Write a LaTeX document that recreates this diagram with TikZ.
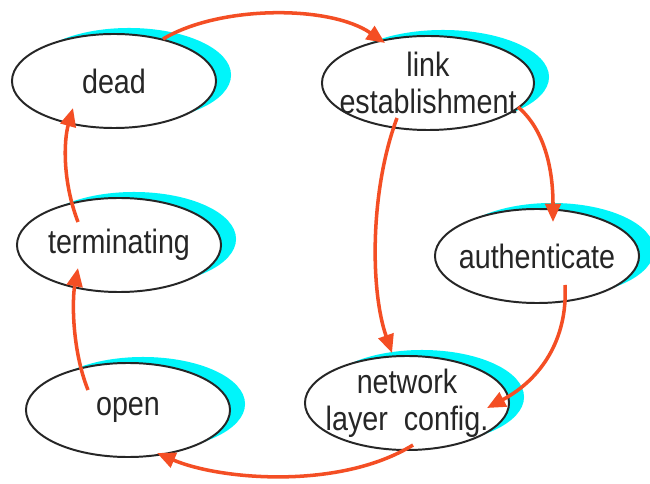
\documentclass[tikz,border=0pt]{standalone}
\usepackage{fontspec}
\setmainfont{Liberation Sans}[FakeStretch=0.85]
\usepackage{tikz}
\usetikzlibrary{arrows.meta,calc,shapes.geometric,shadows}
\definecolor{linkred}{RGB}{244,78,36}
\definecolor{shadowcyan}{RGB}{0,245,250}

\begin{document}
\begin{tikzpicture}[x=0.025cm, y=-0.025cm,
    state/.style={ellipse, draw=black!85, line width=1.4pt, fill=white, text=black!85,
      minimum width=5.1cm, minimum height=2.35cm, inner xsep=-0.6cm, inner ysep=-0.3cm,
      align=center, font=\fontsize{24}{26}\selectfont,
      drop shadow={shadow xshift=0.375cm, shadow yshift=0.15cm, fill=shadowcyan, opacity=1}},
    trans/.style={-{Triangle[length=4.6mm, width=3.9mm]}, draw=linkred, line width=2.5pt}]
    \useasboundingbox[fill=white] (0,0) rectangle (650,484);

    \node[state] (dead) at (114,81) {dead};
    \node[state, minimum width=5.3cm] (link) at (428,83) {link\\establishment};
    \node[state] (auth) at (537,256) {authenticate};
    \node[state] (term) at (119,245) {terminating};
    \node[state] (open) at (128,410) {open};
    \node[state] (net) at (407,403) {network\\layer\ \ config.};

    \draw[trans] ($(dead)+(49,-42)$) .. controls (220,5) and (330,5) .. ($(link)+(-43,-40)$);
    \draw[trans] ($(link)+(-31,35)$) .. controls (370,190) and (370,290) .. ($(net)+(-15,-50)$);
    \draw[trans] ($(link)+(90,24)$) .. controls (545,130) and (553,170) .. ($(auth)+(16,-34)$);
    \draw[trans] ($(auth)+(28,29)$) .. controls (568,340) and (540,380) .. ($(net)+(80,5)$);
    \draw[trans] ($(net)+(6,42)$) .. controls (340,490) and (220,480) .. ($(open)+(29,43)$);
    \draw[trans] ($(open)+(-40,-20)$) .. controls (72,350) and (72,300) .. ($(term)+(-41,23)$);
    \draw[trans] ($(term)+(-41,-23)$) .. controls (62,180) and (64,140) .. ($(dead)+(-41,27)$);
\end{tikzpicture}
\end{document}
